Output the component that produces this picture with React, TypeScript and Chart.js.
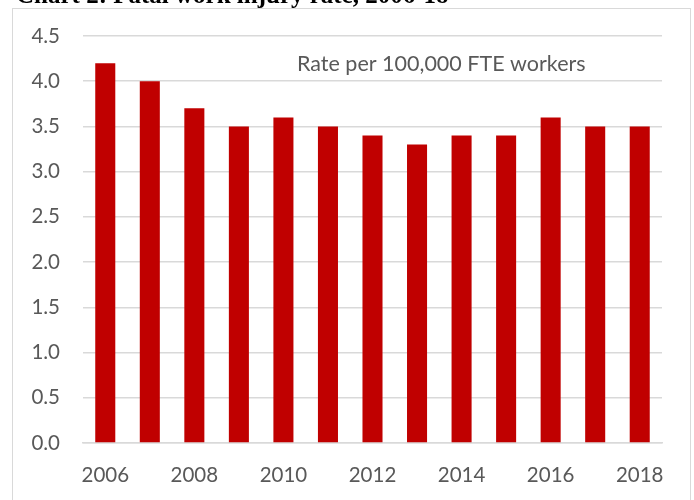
import React, { useEffect, useRef } from "react";
import { Chart, registerables } from "chart.js";

Chart.register(...registerables);

const years: string[] = ["2006", "2007", "2008", "2009", "2010", "2011", "2012", "2013", "2014", "2015", "2016", "2017", "2018"];
const rates: number[] = [4.2, 4.0, 3.7, 3.5, 3.6, 3.5, 3.4, 3.3, 3.4, 3.4, 3.6, 3.5, 3.5];
const titleText = "Chart 2: Fatal work injury rate, 2006-18";
const noteText = "Rate per 100,000 FTE workers";

const decorPlugin = {
  id: "decor",
  beforeDraw(chart: any) {
    const ctx = chart.ctx;
    ctx.save();
    ctx.fillStyle = "#ffffff";
    ctx.fillRect(0, 0, chart.width, chart.height);
    ctx.strokeStyle = "#d9d9d9";
    ctx.lineWidth = 1;
    ctx.strokeRect(12.5, 8.5, 678, 520);
    ctx.font = "bold 25px 'Liberation Serif', 'Times New Roman', serif";
    ctx.fillStyle = "#000000";
    ctx.textBaseline = "alphabetic";
    ctx.textAlign = "left";
    ctx.fillText(titleText, 16, 3);
    ctx.restore();
  },
  afterDraw(chart: any) {
    const ctx = chart.ctx;
    ctx.save();
    ctx.font = "21.5px Lato, 'Open Sans', sans-serif";
    ctx.fillStyle = "#595959";
    ctx.textBaseline = "alphabetic";
    ctx.textAlign = "left";
    ctx.fillText(noteText, 297, 71);
    ctx.restore();
  },
};

export default function App() {
  const ref = useRef<HTMLCanvasElement | null>(null);
  useEffect(() => {
    if (!ref.current) return;
    const chart = new Chart(ref.current, {
      type: "bar",
      data: {
        labels: years,
        datasets: [
          {
            data: rates,
            backgroundColor: "#c00000",
            borderWidth: 0,
            barPercentage: 0.45,
            categoryPercentage: 1,
          },
        ],
      },
      options: {
        animation: false,
        responsive: false,
        devicePixelRatio: 1,
        layout: { padding: { left: 0, right: 32, top: 36, bottom: 0 } },
        plugins: { legend: { display: false }, tooltip: { enabled: false }, title: { display: false } },
        scales: {
          x: {
            grid: { display: false, drawTicks: false },
            border: { display: true, color: "#d9d9d9", width: 1.5 },
            ticks: {
              color: "#595959",
              font: { family: "Lato", size: 20.5 },
              padding: 20,
              maxRotation: 0,
              autoSkip: false,
              callback: (_v: any, i: number) => (i % 2 === 0 ? years[i] : ""),
            },
            afterFit: (s: any) => {
              s.height = 57;
            },
          },
          y: {
            min: 0,
            max: 4.5,
            grid: { color: "#d9d9d9", lineWidth: 1.5, drawTicks: false },
            border: { display: false },
            ticks: {
              stepSize: 0.5,
              color: "#595959",
              font: { family: "Lato", size: 20.5 },
              padding: 23,
              callback: (v: any) => Number(v).toFixed(1),
            },
            afterFit: (s: any) => {
              s.width = 83;
            },
          },
        },
      },
      plugins: [decorPlugin],
    });
    return () => chart.destroy();
  }, []);
  return (
    <div style={{ position: "fixed", left: 0, top: 0, width: 694, height: 500, background: "#fff" }}>
      <canvas ref={ref} width={694} height={500} style={{ display: "block", width: 694, height: 500 }} />
    </div>
  );
}
